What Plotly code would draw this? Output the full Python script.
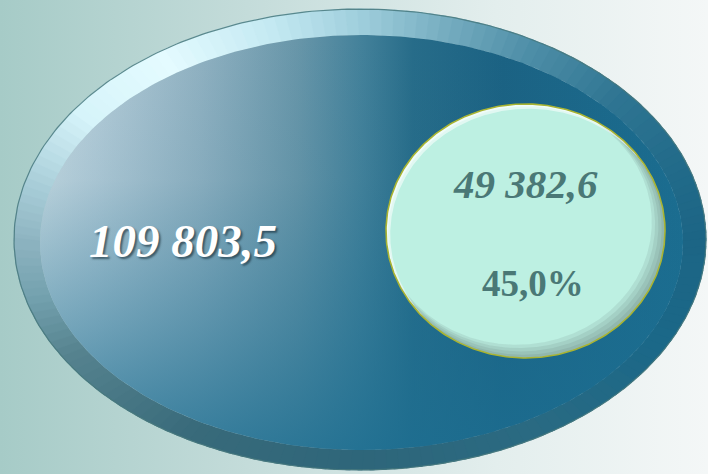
import numpy as np
import plotly.graph_objects as go

# ---------------- data ----------------
total_value = [109803.5]          # whole (big ellipse)
part_value = [49382.6]            # part (small ellipse)
share_pct = [45.0]                # share of the part, %

W, H = 708, 474


def fmt_num(v):
    return f"{v:,.1f}".replace(",", " ").replace(".", ",")


def fmt_pct(v):
    return f"{v:.1f}".replace(".", ",") + "%"


def hex2rgb(h):
    h = h.lstrip("#")
    return np.array([int(h[i:i + 2], 16) for i in (0, 2, 4)], dtype=float)


def ellipse(cx, cy, rx, ry, a0=0.0, a1=360.0, n=361):
    phi = np.radians(np.linspace(a0, a1, n))
    return cx + rx * np.cos(phi), cy + ry * np.sin(phi)


def crescent(cx, cy, rx, ry, dx, dy, shr, n=1440):
    """Region inside ellipse E but outside the shifted/shrunk ellipse E'."""
    phi = np.linspace(0, 2 * np.pi, n, endpoint=False)
    xo, yo = cx + rx * np.cos(phi), cy + ry * np.sin(phi)
    cx2, cy2, rx2, ry2 = cx + dx, cy + dy, rx - shr, ry - shr
    out_mask = ((xo - cx2) / rx2) ** 2 + ((yo - cy2) / ry2) ** 2 > 1
    xi, yi = cx2 + rx2 * np.cos(phi), cy2 + ry2 * np.sin(phi)
    in_mask = ((xi - cx) / rx) ** 2 + ((yi - cy) / ry) ** 2 < 1

    def run(mask):
        idx = np.where(mask & ~np.roll(mask, 1))[0]
        st = idx[0] if len(idx) else 0
        order = np.roll(np.arange(n), -st)
        m = mask[order]
        end = np.argmin(m) if not m.all() else n
        return order[:end]

    o = run(out_mask)
    i = run(in_mask)
    xs = np.concatenate([xo[o], xi[i][::-1], xo[o[:1]]])
    ys = np.concatenate([yo[o], yi[i][::-1], yo[o[:1]]])
    return xs, ys


fig = go.Figure()


def add_poly(x, y, fill=None, grad=None, line_color=None, line_width=0):
    kw = dict(x=x, y=y, mode="lines", fill="toself", hoverinfo="skip",
              line=dict(width=line_width, color=line_color or "rgba(0,0,0,0)"))
    if grad is not None:
        kw["fillgradient"] = grad
    else:
        kw["fillcolor"] = fill
    fig.add_trace(go.Scatter(**kw))


# ---------------- background ----------------
add_poly([0, W, W, 0, 0], [0, 0, H, H, 0],
         grad=dict(type="horizontal",
                   colorscale=[[0, "#a6cbc7"], [0.35, "#c4dcda"],
                               [0.7, "#e3eeed"], [1, "#f4f7f7"]]))

# ---------------- big ellipse: bevel rim ----------------
OC = (360.0, 239.5, 346.0, 230.5)   # outer
IC = (361.5, 242.5, 321.5, 207.5)   # inner (body)

rim_keys = [-180, -165, -145, -125, -105, -90, -75, -60, -40, -20,
            0, 30, 60, 90, 120, 150, 165, 180]
rim_cols = ["#8db3c0", "#a8cdd8", "#d6f4fa", "#e4fbff", "#c4e9f2", "#a0cfdd",
            "#76adc0", "#4f8fa8", "#2f7592", "#226b8a", "#1c6585", "#1b6888",
            "#2a6a82", "#2e667a", "#386a7a", "#56838f", "#72a0ad", "#8db3c0"]
rim_rgb = np.array([hex2rgb(c) for c in rim_cols])

NSEG = 180
step = 360.0 / NSEG
for k in range(NSEG):
    a0 = -180 + k * step
    a1 = a0 + step
    mid = (a0 + a1) / 2
    col = [np.interp(mid, rim_keys, rim_rgb[:, j]) for j in range(3)]
    c = "rgb(%d,%d,%d)" % tuple(int(round(v)) for v in col)
    xo, yo = ellipse(*OC, a0 - 0.4, a1 + 0.4, 5)
    xi, yi = ellipse(*IC, a0 - 0.4, a1 + 0.4, 5)
    add_poly(np.concatenate([xo, xi[::-1], xo[:1]]),
             np.concatenate([yo, yi[::-1], yo[:1]]),
             fill=c, line_color=c, line_width=0.6)

# thin outer outline
xo, yo = ellipse(*OC)
fig.add_trace(go.Scatter(x=xo, y=yo, mode="lines", hoverinfo="skip",
                         line=dict(color="rgba(70,120,125,0.85)", width=1.2)))

# ---------------- big ellipse: body ----------------
xb, yb = ellipse(*IC)
add_poly(xb, yb, grad=dict(type="horizontal", colorscale=[
    [0.0, "#c6d9e1"], [0.09, "#b3cbd7"], [0.25, "#90b1c1"],
    [0.40, "#6896a9"], [0.50, "#43819a"], [0.58, "#276c89"],
    [0.72, "#1b6283"], [1.0, "#1b6d90"]]))
# vertical overlay (0 = bottom of screen, 1 = top)
add_poly(xb, yb, grad=dict(type="vertical", colorscale=[
    [0.0, "rgba(28,110,145,0.8)"], [0.3, "rgba(28,110,145,0.45)"],
    [0.65, "rgba(28,110,145,0.08)"], [1.0, "rgba(28,110,145,0)"]]))

# ---------------- small ellipse ----------------
SC = (525.5, 231.0, 139.5, 127.0)
xs, ys = ellipse(*SC)
add_poly(xs, ys, fill="#bdf0e2")
# soft inner shadow (bottom-right)
for kk in [3, 6, 9, 12]:
    cx_, cy_ = crescent(*SC, dx=-0.75 * kk, dy=-0.75 * kk, shr=0.35 * kk)
    add_poly(cx_, cy_, fill="rgba(70,95,90,0.11)")
# highlight (top-left)
cx_, cy_ = crescent(*SC, dx=3.0, dy=3.5, shr=1.2)
add_poly(cx_, cy_, fill="rgba(255,255,255,0.55)")
cx_, cy_ = crescent(*SC, dx=1.5, dy=1.8, shr=0.6)
add_poly(cx_, cy_, fill="rgba(255,255,255,0.5)")
fig.add_trace(go.Scatter(x=xs, y=ys, mode="lines", hoverinfo="skip",
                         line=dict(color="#a9b432", width=1.6)))

# ---------------- labels ----------------
fig.add_annotation(x=183, y=241, text=fmt_num(total_value[0]), showarrow=False,
                   font=dict(family="Liberation Serif", size=47, color="#ffffff",
                             style="italic", weight="bold",
                             shadow="2px 2px 2px rgba(20,40,50,0.6)"))
fig.add_annotation(x=525, y=184, text=fmt_num(part_value[0]), showarrow=False,
                   font=dict(family="Liberation Serif", size=41, color="#4a7876",
                             style="italic", weight="bold"))
fig.add_annotation(x=533, y=283, text=fmt_pct(share_pct[0]), showarrow=False,
                   font=dict(family="Liberation Serif", size=37, color="#4a7876",
                             weight="bold"))

fig.update_layout(
    width=W, height=H, margin=dict(l=0, r=0, t=0, b=0),
    showlegend=False, paper_bgcolor="#e6efee", plot_bgcolor="rgba(0,0,0,0)",
    xaxis=dict(range=[0, W], visible=False, fixedrange=True),
    yaxis=dict(range=[H, 0], visible=False, fixedrange=True),
)

fig.write_html("out.html", config={"displayModeBar": False},
               post_script="document.body.style.margin='0';"
                           "document.body.style.overflow='hidden';")
